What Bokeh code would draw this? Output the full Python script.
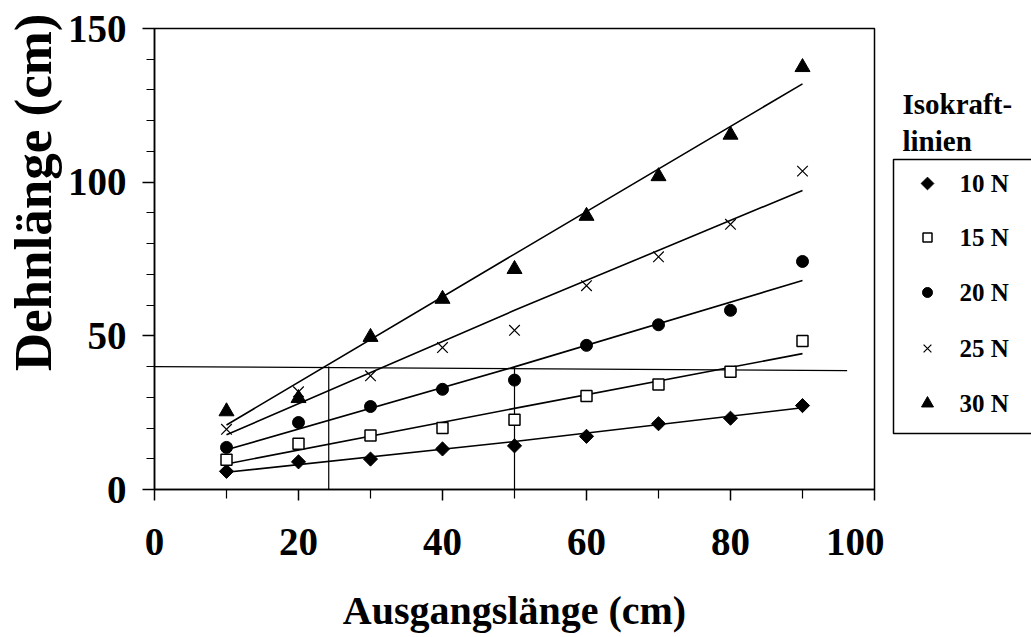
import math
from bokeh.plotting import figure
from bokeh.models import Range1d, FixedTicker, Title
from bokeh.layouts import row
from bokeh.core.properties import value
from bokeh.embed import file_html
from bokeh.resources import INLINE

# ---- data ----
lengths = [10, 20, 30, 40, 50, 60, 70, 80, 90]          # Ausgangslänge (cm)
n10 = [5.9, 9.0, 9.9, 13.2, 14.2, 17.3, 21.4, 23.2, 27.3]
n15 = [9.7, 14.9, 17.6, 20.0, 22.7, 30.4, 34.2, 38.3, 48.3]
n20 = [13.7, 21.8, 27.0, 32.6, 35.6, 46.9, 53.6, 58.3, 74.2]
n25 = [19.6, 31.8, 37.0, 46.2, 51.8, 66.3, 75.7, 86.3, 103.6]
n30 = [25.4, 29.7, 49.6, 62.0, 71.7, 89.0, 101.9, 115.4, 137.4]
series_labels = ["10 N", "15 N", "20 N", "25 N", "30 N"]
legend_title = ["Isokraft-", "linien"]

# trend lines (Isokraftlinien), values read at x = 10, 50, 90
fit_x = [10, 50, 90]
fit10 = [5.6, 15.6, 26.6]
fit15 = [8.3, 26.4, 44.2]
fit20 = [12.9, 39.9, 68.0]
fit25 = [17.8, 58.3, 97.3]
fit30 = [21.0, 76.6, 132.0]

# guide lines (reading example at 40 cm)
guide_h_x = [0, 96.2]
guide_h_y = [40.0, 38.7]
guide_v_x = [24.2, 50.0]
guide_v_top = 40.0

x_ticks = [0, 20, 40, 60, 80, 100]
x_minor = [10, 30, 50, 70, 90]
y_ticks = [0, 50, 100, 150]
y_minor = [10, 20, 30, 40, 60, 70, 80, 90, 110, 120, 130, 140]

FONT = "Liberation Serif"
TOP, FH, BOTTOM = 28, 461, 148

# ---------------- main chart ----------------
p = figure(frame_width=720, frame_height=FH,
           min_border_left=154, min_border_right=10,
           min_border_top=TOP, min_border_bottom=BOTTOM,
           x_range=Range1d(0, 100), y_range=Range1d(0, 150),
           output_backend="svg", toolbar_location=None)

p.xgrid.visible = False
p.ygrid.visible = False
p.outline_line_color = "black"
p.outline_line_width = 1.5
p.background_fill_color = "white"
p.border_fill_color = "white"

p.xaxis.ticker = FixedTicker(ticks=x_ticks, minor_ticks=x_minor)
p.yaxis.ticker = FixedTicker(ticks=y_ticks, minor_ticks=y_minor)
for ax in (p.xaxis[0], p.yaxis[0]):
    ax.axis_line_color = "black"
    ax.axis_line_width = 1.5
    ax.major_tick_line_color = "black"
    ax.minor_tick_line_color = "black"
    ax.major_tick_line_width = 1.5
    ax.minor_tick_line_width = 1.2
    ax.major_tick_in = 0
    ax.minor_tick_in = 0
    ax.major_label_text_font = FONT
    ax.major_label_text_font_style = "bold"
    ax.major_label_text_font_size = "39px"
    ax.major_label_text_color = "black"
p.xaxis.major_tick_out = 11
p.xaxis.minor_tick_out = 9
p.xaxis.major_label_standoff = 28
p.yaxis.major_tick_out = 12
p.yaxis.minor_tick_out = 8
p.yaxis.major_label_standoff = 16

p.xaxis.axis_label = "Ausgangslänge (cm)"
p.xaxis.axis_label_text_font = FONT
p.xaxis.axis_label_text_font_style = "bold"
p.xaxis.axis_label_text_font_size = "40px"
p.xaxis.axis_label_text_color = "black"
p.xaxis.axis_label_standoff = 30

ytitle = Title(text="Dehnlänge (cm)", align="right", offset=-15, standoff=2,
               vertical_align="top",
               text_font=FONT, text_font_style="bold", text_font_size="53px",
               text_color="black")
p.add_layout(ytitle, "left")

# guide lines
p.line(guide_h_x, guide_h_y, line_color="black", line_width=1.2)
for gx in guide_v_x:
    p.line([gx, gx], [0, guide_v_top], line_color="black", line_width=1.2)

# trend lines
for fy in (fit10, fit15, fit20, fit25, fit30):
    p.line(fit_x, fy, line_color="black", line_width=1.6)

# data points
ROT = math.pi / 4
marker_styles = [
    dict(marker="square", size=10, angle=ROT, fill_color="black", line_color="black"),
    dict(marker="square", size=11, fill_color="white", line_color="black", line_width=1.5),
    dict(marker="circle", size=12, fill_color="black", line_color="black"),
    dict(marker="x", size=15, line_color="black", line_width=1.2),
    dict(marker="triangle", size=15, fill_color="black", line_color="black"),
]
for ys, st in zip((n10, n15, n20, n25, n30), marker_styles):
    p.scatter(lengths, ys, **st)

# ---------------- legend panel (own figure to the right) ----------------
# its frame is aligned with the main frame; ranges are in page pixels
LW = 147
lg = figure(frame_width=LW, frame_height=FH,
            min_border_left=0, min_border_right=0,
            min_border_top=TOP, min_border_bottom=BOTTOM,
            x_range=Range1d(0, LW), y_range=Range1d(TOP + FH, TOP),
            x_axis_location=None, y_axis_location=None,
            output_backend="svg", toolbar_location=None)
lg.xgrid.visible = False
lg.ygrid.visible = False
lg.outline_line_color = None
lg.background_fill_color = "white"
lg.border_fill_color = "white"

lg.quad(left=9, right=LW + 20, top=159, bottom=433,
        fill_color="white", line_color="black", line_width=1.5)
row_y = [183, 237, 292, 348, 403]
legend_marker_size = [9, 9, 10, 11, 12]
for yy, st, ms in zip(row_y, marker_styles, legend_marker_size):
    st2 = dict(st)
    st2["size"] = ms
    lg.scatter([43], [yy], **st2)
lg.text(x=[75] * len(series_labels), y=row_y, text=series_labels,
        text_font=value(FONT), text_font_style="bold", text_font_size="25px",
        text_baseline="middle", text_align="left", text_color="black")
lg.text(x=[18, 18], y=[103, 140], text=legend_title,
        text_font=value(FONT), text_font_style="bold", text_font_size="29px",
        text_baseline="alphabetic", text_align="left", text_color="black")

layout = row(p, lg, spacing=0)
open("out.html", "w").write(file_html(layout, INLINE))
